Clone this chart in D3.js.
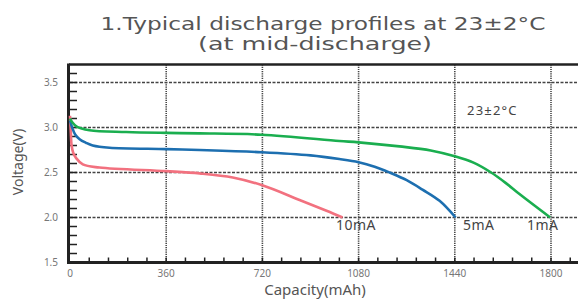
<!DOCTYPE html>
<html>
<head>
<meta charset="utf-8">
<script src="https://cdn.jsdelivr.net/npm/d3@7"></script>
<style>
  body { margin: 0; background: #fff; }
  svg { display: block; font-family: "Noto Sans", sans-serif; }
</style>
</head>
<body>
<script>
// discharge curves: [capacity mAh, voltage V]
const red10mA = [[0,3.13],[3,2.95],[6,2.80],[12,2.72],[23,2.66],[48,2.59],[110,2.555],[360,2.515],[485,2.49],[609,2.445],[717,2.36],[859,2.195],[960,2.075],[1020,2.0]];
const blue5mA = [[0,3.08],[8,3.0],[20,2.92],[36,2.87],[60,2.83],[85,2.80],[148,2.775],[360,2.76],[485,2.75],[717,2.725],[900,2.69],[1008,2.65],[1080,2.615],[1140,2.565],[1196,2.5],[1260,2.415],[1319,2.31],[1383,2.185],[1443,2.0]];
const green1mA = [[0,3.10],[8,3.06],[25,3.01],[73,2.97],[210,2.95],[360,2.94],[485,2.935],[717,2.92],[1008,2.85],[1080,2.835],[1233,2.79],[1350,2.745],[1440,2.68],[1510,2.61],[1576,2.5],[1630,2.385],[1682,2.26],[1797,2.0]];

const xTicks = [0, 360, 720, 1080, 1440, 1800];
const yTicks = [1.5, 2.0, 2.5, 3.0, 3.5];
const seriesNames = ["10mA", "5mA", "1mA"];

const W = 578, H = 300;
const svg = d3.select("body").append("svg").attr("width", W).attr("height", H);

//scales
const x = d3.scaleLinear().domain([0, 1800]).range([70, 551]);
const y = d3.scaleLinear().domain([1.5, 3.7]).range([262.5, 64.5]);
const xMax = x.invert(590);

//title
svg.append("text").attr("x", 323).attr("y", 30).attr("text-anchor", "middle")
  .attr("font-family", "DejaVu Sans").attr("font-size", 17).attr("fill", "#555")
  .attr("textLength", 445).attr("lengthAdjust", "spacingAndGlyphs")
  .text("1.Typical discharge profiles at 23±2°C");
svg.append("text").attr("x", 315).attr("y", 50).attr("text-anchor", "middle")
  .attr("font-family", "DejaVu Sans").attr("font-size", 17).attr("fill", "#555")
  .attr("textLength", 234).attr("lengthAdjust", "spacingAndGlyphs")
  .text("(at mid-discharge)");

//grid lines
svg.append("g").selectAll("line").data(yTicks.slice(1)).enter().append("line")
  .attr("x1", x(0)).attr("x2", W)
  .attr("y1", d => y(d)).attr("y2", d => y(d))
  .attr("stroke", "#444").attr("stroke-width", 1.3).attr("stroke-dasharray", "3,1.5");
svg.append("g").selectAll("line").data(xTicks.slice(1)).enter().append("line")
  .attr("x1", d => x(d)).attr("x2", d => x(d))
  .attr("y1", y(3.7)).attr("y2", y(1.5))
  .attr("stroke", "#444").attr("stroke-width", 1.6).attr("stroke-dasharray", "1.2,1");

//minor ticks
svg.append("g").selectAll("line").data(d3.range(16, 37).map(v => v / 10)).enter().append("line")
  .attr("x1", x(0)).attr("x2", x(0) + 7)
  .attr("y1", d => y(d)).attr("y2", d => y(d))
  .attr("stroke", "#222").attr("stroke-width", 1.5);
svg.append("g").selectAll("line").data(d3.range(72, xMax, 72)).enter().append("line")
  .attr("x1", d => x(d)).attr("x2", d => x(d))
  .attr("y1", y(1.5)).attr("y2", y(1.5) - 5)
  .attr("stroke", "#222").attr("stroke-width", 1.5);

//frame
svg.append("line").attr("x1", x(0) - 1).attr("x2", W).attr("y1", y(3.7)).attr("y2", y(3.7))
  .attr("stroke", "#222").attr("stroke-width", 2.5);
svg.append("line").attr("x1", x(0) - 1.5).attr("x2", x(0) - 1.5).attr("y1", y(3.7) - 1).attr("y2", y(1.5) + 1.5)
  .attr("stroke", "#222").attr("stroke-width", 3);
svg.append("line").attr("x1", x(0) - 3).attr("x2", W).attr("y1", y(1.5)).attr("y2", y(1.5))
  .attr("stroke", "#222").attr("stroke-width", 3);

//tick labels
svg.append("g").selectAll("text").data(yTicks).enter().append("text")
  .attr("x", 58).attr("y", d => y(d)).attr("dy", "0.35em")
  .attr("text-anchor", "end").attr("font-size", 10).attr("fill", "#777")
  .text(d => d.toFixed(1));
svg.append("g").selectAll("text").data(xTicks).enter().append("text")
  .attr("x", d => x(d)).attr("y", 276.5)
  .attr("text-anchor", "middle").attr("font-size", 10).attr("fill", "#777")
  .text(d => d);

//axis titles
svg.append("text").attr("transform", "translate(23,162) rotate(-90)")
  .attr("text-anchor", "middle").attr("font-size", 14).attr("fill", "#555")
  .text("Voltage(V)");
svg.append("text").attr("x", 315).attr("y", 295)
  .attr("text-anchor", "middle").attr("font-size", 15).attr("fill", "#555")
  .text("Capacity(mAh)");

//curves
const line = d3.line().x(d => x(d[0])).y(d => y(d[1])).curve(d3.curveCatmullRom.alpha(0.5));
const colors = ["#f2717f", "#1d6fb0", "#1aae4f"];
[red10mA, blue5mA, green1mA].forEach((s, i) => {
  svg.append("path").datum(s).attr("d", line)
    .attr("fill", "none").attr("stroke", colors[i]).attr("stroke-width", 2.6)
    .attr("stroke-linejoin", "round");
});

//labels
const labelPos = [[336, 230], [463, 230], [527, 230]];
svg.append("g").selectAll("text").data(seriesNames).enter().append("text")
  .attr("x", (d, i) => labelPos[i][0]).attr("y", (d, i) => labelPos[i][1])
  .attr("font-size", 14).attr("fill", "#444").attr("letter-spacing", 0.5)
  .text(d => d);
svg.append("text").attr("x", 467).attr("y", 115)
  .attr("font-size", 13).attr("fill", "#444").attr("letter-spacing", 1.2)
  .text("23±2°C");
</script>
</body>
</html>
